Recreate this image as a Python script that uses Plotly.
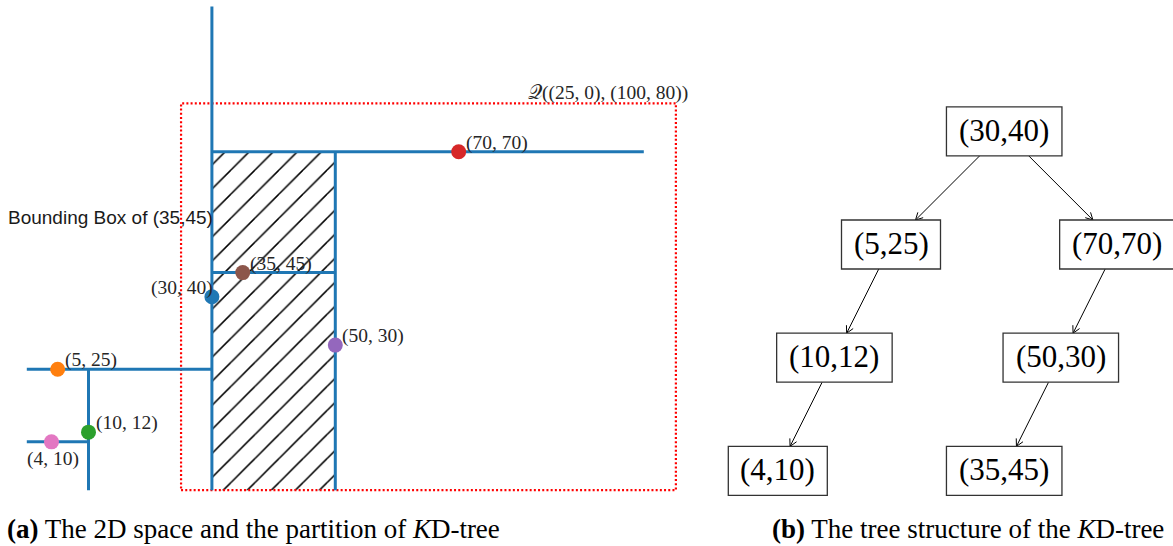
import math
import plotly.graph_objects as go

# ---------------- data ----------------
point_x = [30, 5, 10, 70, 50, 35, 4]
point_y = [40, 25, 12, 70, 30, 45, 10]
point_colors = ["#1f77b4", "#ff7f0e", "#2ca02c", "#d62728", "#9467bd", "#8c564b", "#e377c2"]
space_bounds = [0, 100, 0, 100]          # xmin, xmax, ymin, ymax of the 2D space
query_x = [25, 105.2]                    # query rectangle as drawn
query_y = [0, 80]
query_label = "𝒬((25, 0), (100, 80))"
bbox_target = (35, 45)
bbox_label = "Bounding Box of (35,45)"
caption_a = "<b>(a)</b> The 2D space and the partition of <i>K</i>D-tree"
caption_b = "<b>(b)</b> The tree structure of the <i>K</i>D-tree"

# ---------------- layout constants (pixels) ----------------
W, H = 1173, 546
X0_PX, X_SCALE = 26.8, 6.17      # panel (a): px = X0 + X_SCALE * x
Y0_PX, Y_SCALE = 490.2, 4.836    # panel (a): py = Y0 - Y_SCALE * y
XR = [-2, 110]
YR = [-2, 101]
ROOT_X, ROOT_Y = 1004.2, 131.3   # panel (b)
SLOT_PX, LEVEL_PX = 56.6, 113.2
BOX_H = 49
CHAR_W = 16.5
SPREAD = {1: 2}

BLUE = "#1f77b4"
SERIF = "Liberation Serif"

# ---------------- build the KD-tree ----------------
nodes = []


def insert(px, py):
    if not nodes:
        nodes.append(dict(x=px, y=py, depth=0, parent=None, side=0,
                          region=list(space_bounds), left=None, right=None))
        return
    cur = 0
    while True:
        n = nodes[cur]
        axis = n["depth"] % 2
        val = px if axis == 0 else py
        split = n["x"] if axis == 0 else n["y"]
        side = "left" if val < split else "right"
        if n[side] is None:
            reg = list(n["region"])
            if axis == 0:
                reg[1 if side == "left" else 0] = split
            else:
                reg[3 if side == "left" else 2] = split
            nodes.append(dict(x=px, y=py, depth=n["depth"] + 1, parent=cur,
                              side=-1 if side == "left" else 1,
                              region=reg, left=None, right=None))
            n[side] = len(nodes) - 1
            return
        cur = n[side]


for px_, py_ in zip(point_x, point_y):
    insert(px_, py_)

# partition segments
seg_x, seg_y = [], []
for n in nodes:
    xmin, xmax, ymin, ymax = n["region"]
    if n["depth"] % 2 == 0:
        seg_x += [n["x"], n["x"], None]
        seg_y += [ymin, ymax, None]
    else:
        seg_x += [xmin, xmax, None]
        seg_y += [n["y"], n["y"], None]

# bounding box of target
target = next(n for n in nodes if (n["x"], n["y"]) == bbox_target)
bx0, bx1, by0, by1 = target["region"]

fig = go.Figure()

# hatch region
fig.add_trace(go.Scatter(
    x=[bx0, bx1, bx1, bx0, bx0], y=[by0, by0, by1, by1, by0],
    mode="lines", fill="toself", line=dict(width=0),
    fillcolor="white",
    fillpattern=dict(shape="/", size=17, solidity=0.09, fgcolor="#000000",
                     fgopacity=1, bgcolor="white"),
    hoverinfo="skip", showlegend=False))

# query box
fig.add_trace(go.Scatter(
    x=[query_x[0], query_x[1], query_x[1], query_x[0], query_x[0]],
    y=[query_y[0], query_y[0], query_y[1], query_y[1], query_y[0]],
    mode="lines", line=dict(color="#ff0000", width=2.2, dash="2px,2.2px"),
    hoverinfo="skip", showlegend=False, cliponaxis=False))

# partition lines
fig.add_trace(go.Scatter(x=seg_x, y=seg_y, mode="lines",
                         line=dict(color=BLUE, width=3),
                         hoverinfo="skip", showlegend=False))

# points
fig.add_trace(go.Scatter(x=point_x, y=point_y, mode="markers",
                         marker=dict(size=15, color=point_colors, line=dict(width=0)),
                         hoverinfo="skip", showlegend=False, cliponaxis=False))

annotations = []
placement = {
    (30, 40): dict(xanchor="right", yanchor="bottom", xshift=3, yshift=-4),
    (4, 10): dict(xanchor="center", yanchor="top", xshift=2, yshift=-4),
}
for x, y in zip(point_x, point_y):
    p = placement.get((x, y), dict(xanchor="left", yanchor="bottom", xshift=5, yshift=-4))
    annotations.append(dict(x=x, y=y, xref="x", yref="y", text=f"({x}, {y})",
                            showarrow=False, font=dict(family=SERIF, size=19.5, color="#262626"),
                            **p))

annotations.append(dict(x=bx0, y=56.3, xref="x", yref="y", text=bbox_label, showarrow=False,
                        xanchor="right", yanchor="middle", xshift=3,
                        font=dict(family="Liberation Sans", size=19, color="#1a1a1a")))
annotations.append(dict(x=query_x[1], y=query_y[1], xref="x", yref="y", text=query_label,
                        showarrow=False, xanchor="right", yanchor="bottom", xshift=14, yshift=-3,
                        font=dict(family=SERIF, size=19.5, color="#262626")))

# ---------------- tree panel ----------------
slots = []
for n in nodes:
    if n["parent"] is None:
        slots.append(0)
    else:
        slots.append(slots[n["parent"]] + n["side"] * SPREAD.get(n["depth"], 1))

centers = [(ROOT_X + SLOT_PX * s, ROOT_Y + LEVEL_PX * n["depth"]) for s, n in zip(slots, nodes)]

shapes = []
for n, (cx, cy) in zip(nodes, centers):
    label = f"({n['x']},{n['y']})"
    w = CHAR_W * len(label)
    shapes.append(dict(type="rect", xref="x2", yref="y2",
                       x0=cx - w / 2, x1=cx + w / 2, y0=cy - BOX_H / 2, y1=cy + BOX_H / 2,
                       line=dict(color="#333333", width=1.3), fillcolor="white", layer="above"))
    annotations.append(dict(x=cx, y=cy, xref="x2", yref="y2", text=label, showarrow=False,
                            xanchor="center", yanchor="middle", yshift=1,
                            font=dict(family=SERIF, size=31, color="black")))

ax_, ay_ = [], []
HEAD, ANG = 8, math.radians(28)
for n, (cx, cy) in zip(nodes, centers):
    if n["parent"] is None:
        continue
    pcx, pcy = centers[n["parent"]]
    dx, dy = cx - pcx, cy - pcy
    t = (BOX_H / 2) / dy
    sx, sy = pcx + dx * t, pcy + dy * t
    ex, ey = cx - dx * t, cy - dy * t
    ax_ += [sx, ex, None]
    ay_ += [sy, ey, None]
    ang = math.atan2(sy - ey, sx - ex)
    for sgn in (-1, 1):
        a = ang + sgn * ANG
        ax_ += [ex + HEAD * math.cos(a), ex, None]
        ay_ += [ey + HEAD * math.sin(a), ey, None]

fig.add_trace(go.Scatter(x=ax_, y=ay_, xaxis="x2", yaxis="y2", mode="lines",
                         line=dict(color="black", width=1),
                         hoverinfo="skip", showlegend=False))

# captions
annotations.append(dict(x=5 / W, y=(H - 529) / H, xref="paper", yref="paper", text=caption_a,
                        showarrow=False, xanchor="left", yanchor="middle",
                        font=dict(family=SERIF, size=27, color="black")))
annotations.append(dict(x=770 / W, y=(H - 529) / H, xref="paper", yref="paper", text=caption_b,
                        showarrow=False, xanchor="left", yanchor="middle",
                        font=dict(family=SERIF, size=27, color="black")))

# domains from pixel mapping
xd0 = (X0_PX + X_SCALE * XR[0]) / W
xd1 = (X0_PX + X_SCALE * XR[1]) / W
yd0 = (H - (Y0_PX - Y_SCALE * YR[0])) / H
yd1 = (H - (Y0_PX - Y_SCALE * YR[1])) / H

fig.update_layout(
    width=W, height=H, autosize=False,
    margin=dict(l=0, r=0, t=0, b=0),
    paper_bgcolor="white", plot_bgcolor="rgba(0,0,0,0)",
    xaxis=dict(range=XR, domain=[xd0, xd1], visible=False, fixedrange=True),
    yaxis=dict(range=YR, domain=[yd0, yd1], visible=False, fixedrange=True),
    xaxis2=dict(range=[700, W], domain=[700 / W, 1], visible=False, anchor="y2"),
    yaxis2=dict(range=[H, 0], domain=[0, 1], visible=False, anchor="x2"),
    shapes=shapes, annotations=annotations, showlegend=False,
)

fig.write_html("out.html")
